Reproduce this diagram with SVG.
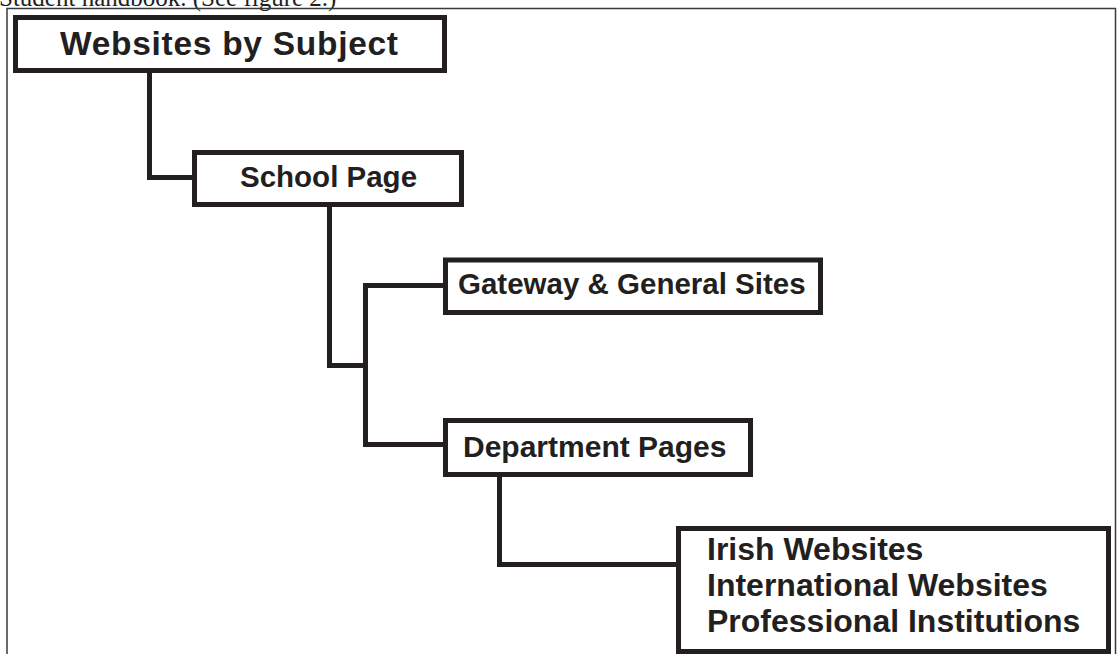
<svg xmlns="http://www.w3.org/2000/svg" width="1119" height="654" viewBox="0 0 1119 654">
<style>
.box{fill:#fff;stroke:#231f20;stroke-width:5}
.conn{fill:none;stroke:#231f20;stroke-width:5;stroke-linejoin:miter}
.lbl{font-family:"Liberation Sans",Arial,sans-serif;font-weight:bold;fill:#231f20}
.cap{font-family:"Liberation Serif","Times New Roman",serif;fill:#231f20}
</style>
<rect width="1119" height="654" fill="#fff"/>
<text class="cap" x="-1" y="6" font-size="25">Student handbook. (See figure 2.)</text>
<rect x="7" y="8.5" width="1108.5" height="700" fill="none" stroke="#3a3a3a" stroke-width="1.5"/>
<g id="connectors">
<path class="conn" d="M149.5,73 V177.5 H195"/>
<path class="conn" d="M329.5,205 V365.5 H365.5"/>
<path class="conn" d="M445.5,285.5 H365.5 V444.5 H446"/>
<path class="conn" d="M499.5,475 V564.5 H679"/>
</g>
<g id="n1">
<rect class="box" x="15.5" y="17.5" width="429" height="53"/>
<text class="lbl" x="60" y="55" font-size="33.5" textLength="338">Websites by Subject</text>
</g>
<g id="n2">
<rect class="box" x="194.5" y="152.5" width="267" height="52"/>
<text class="lbl" x="240" y="187" font-size="29.5">School Page</text>
</g>
<g id="n3">
<rect class="box" x="445.5" y="260" width="375" height="52.5"/>
<text class="lbl" x="458" y="294" font-size="29.5">Gateway &amp; General Sites</text>
</g>
<g id="n4">
<rect class="box" x="445.5" y="420.5" width="305" height="54"/>
<text class="lbl" x="463" y="457" font-size="30">Department Pages</text>
</g>
<g id="n5">
<rect class="box" x="678.5" y="528.5" width="430" height="123"/>
<text class="lbl" x="707" font-size="32"><tspan x="707" y="560">Irish Websites</tspan><tspan x="707" y="596">International Websites</tspan><tspan x="707" y="632">Professional Institutions</tspan></text>
</g>
</svg>
